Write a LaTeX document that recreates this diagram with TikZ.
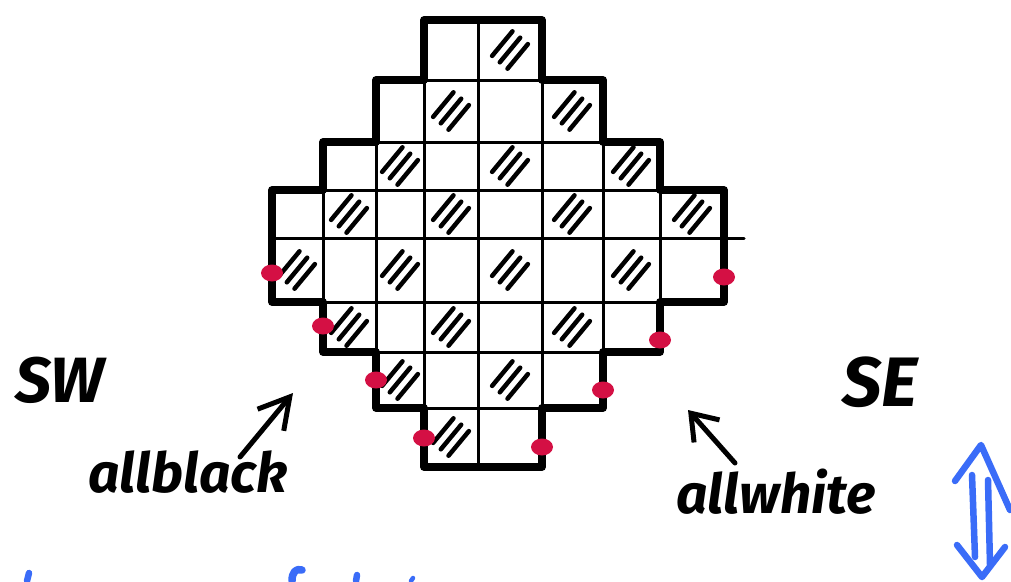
\documentclass[tikz,border=0pt]{standalone}
\usepackage{fontspec}
\setmainfont{Fira Sans}
\usetikzlibrary{arrows.meta}
\definecolor{dotred}{RGB}{212,16,68}
\definecolor{penblue}{RGB}{58,108,248}
\begin{document}
\begin{tikzpicture}[x=1pt,y=-1pt,
  outline/.style={line width=7.5pt, line join=round, line cap=round},
  gridline/.style={line width=3pt, line cap=round},
  hatchline/.style={line width=4.5pt, line cap=round},
  pentext/.style={inner sep=0pt},
  penarrow/.style={line width=5pt, line cap=round},
  bluepen/.style={penblue, line width=6.5pt, line cap=round, line join=round}]
\useasboundingbox (0,0) rectangle (1011,581);
\fill[white] (0,0) rectangle (1011,581);
% column and row positions
\def\Xa{272}\def\Xb{323}\def\Xc{376}\def\Xd{424}\def\Xe{478}
\def\Xf{542}\def\Xg{603}\def\Xh{660}\def\Xi{724}
\def\Ya{20}\def\Yb{80}\def\Yc{142}\def\Yd{190}\def\Ye{238}
\def\Yf{302}\def\Yg{352}\def\Yh{408}\def\Yi{467}
% hatching of the black cells
\foreach \cx/\cy in {510/50, 451/111, 572/111, 400/166, 510/166, 631/166,
  349/214, 451/214, 572/214, 692/214, 297/270, 400/270, 510/270, 631/270,
  349/327, 451/327, 572/327, 400/380, 510/380, 451/437}{
  \draw[hatchline] (\cx-17.9,\cy+5.9) -- (\cx+2.5,\cy-18.7);
  \draw[hatchline] (\cx-10.2,\cy+12.3) -- (\cx+10.2,\cy-12.3);
  \draw[hatchline] (\cx-2.5,\cy+18.7) -- (\cx+17.9,\cy-5.9);
}
% interior grid lines
\draw[gridline] (\Xd,\Yb) -- (\Xf,\Yb);
\draw[gridline] (\Xc,\Yc) -- (\Xg,\Yc);
\draw[gridline] (\Xb,\Yd) -- (\Xh,\Yd);
\draw[gridline] (\Xa,\Ye) -- (\Xi+20,\Ye);
\draw[gridline] (\Xb,\Yf) -- (\Xh,\Yf);
\draw[gridline] (\Xc,\Yg) -- (\Xg,\Yg);
\draw[gridline] (\Xd,\Yh) -- (\Xf,\Yh);
\draw[gridline] (\Xb,\Yd) -- (\Xb,\Yf);
\draw[gridline] (\Xc,\Yc) -- (\Xc,\Yg);
\draw[gridline] (\Xd,\Yb) -- (\Xd,\Yh);
\draw[gridline] (\Xe,\Ya) -- (\Xe,\Yi);
\draw[gridline] (\Xf,\Yb) -- (\Xf,\Yh);
\draw[gridline] (\Xg,\Yc) -- (\Xg,\Yg);
\draw[gridline] (\Xh,\Yd) -- (\Xh,\Yf);
% outline of the Aztec diamond
\draw[outline] (\Xd,\Ya) -- (\Xf,\Ya) -- (\Xf,\Yb) -- (\Xg,\Yb) -- (\Xg,\Yc)
  -- (\Xh,\Yc) -- (\Xh,\Yd) -- (\Xi,\Yd) -- (\Xi,\Yf) -- (\Xh,\Yf) -- (\Xh,\Yg)
  -- (\Xg,\Yg) -- (\Xg,\Yh) -- (\Xf,\Yh) -- (\Xf,\Yi) -- (\Xd,\Yi) -- (\Xd,\Yh)
  -- (\Xc,\Yh) -- (\Xc,\Yg) -- (\Xb,\Yg) -- (\Xb,\Yf) -- (\Xa,\Yf) -- (\Xa,\Yd)
  -- (\Xb,\Yd) -- (\Xb,\Yc) -- (\Xc,\Yc) -- (\Xc,\Yb) -- (\Xd,\Yb) -- cycle;
% red dots
\foreach \px/\py in {\Xa/273, \Xb/326, \Xc/380, \Xd/438, \Xi/277, \Xh/340, \Xg/390, \Xf/447}{
  \fill[dotred] (\px,\py) ellipse [x radius=11, y radius=8.5];
}
% labels
\node[pentext, font=\bfseries\itshape\fontsize{64}{70}\selectfont] (sw) at (60,380) {SW};
\node[pentext, font=\bfseries\itshape\fontsize{70}{76}\selectfont] (se) at (880,382) {SE};
\node[pentext, font=\bfseries\itshape\fontsize{55}{60}\selectfont] (allblack) at (188,472) {allblack};
\node[pentext, font=\bfseries\itshape\fontsize{55}{60}\selectfont] (allwhite) at (776,492) {allwhite};
% arrows
\coordinate (abtail) at (240,457);
\coordinate (abtip) at (293,393);
\coordinate (awtail) at (735,463);
\coordinate (awtip) at (688,410);
\draw[penarrow, -{Straight Barb[length=30pt, width=34pt]}] (abtail) -- (abtip);
\draw[penarrow, -{Straight Barb[length=24pt, width=34pt]}] (awtail) -- (awtip);
% blue double arrow
\coordinate (bt) at (981,445);
\coordinate (bb) at (982,577);
\draw[bluepen] (955,481) -- (bt) -- (1010,510);
\draw[bluepen] (972,475) -- (975,557);
\draw[bluepen] (988,480) -- (990,565);
\draw[bluepen] (957,545) -- (bb) -- (1005,547);
% blue pen fragments at the bottom edge
\draw[bluepen] (29,573) -- (27,581);
\draw[bluepen, line width=7.5pt] (292,581) .. controls (292,572) and (296,568) .. (302,570);
\draw[bluepen] (357,575) -- (356,581);
\draw[bluepen, line width=4.5pt] (413,578) -- (411,581);
\end{tikzpicture}
\end{document}
